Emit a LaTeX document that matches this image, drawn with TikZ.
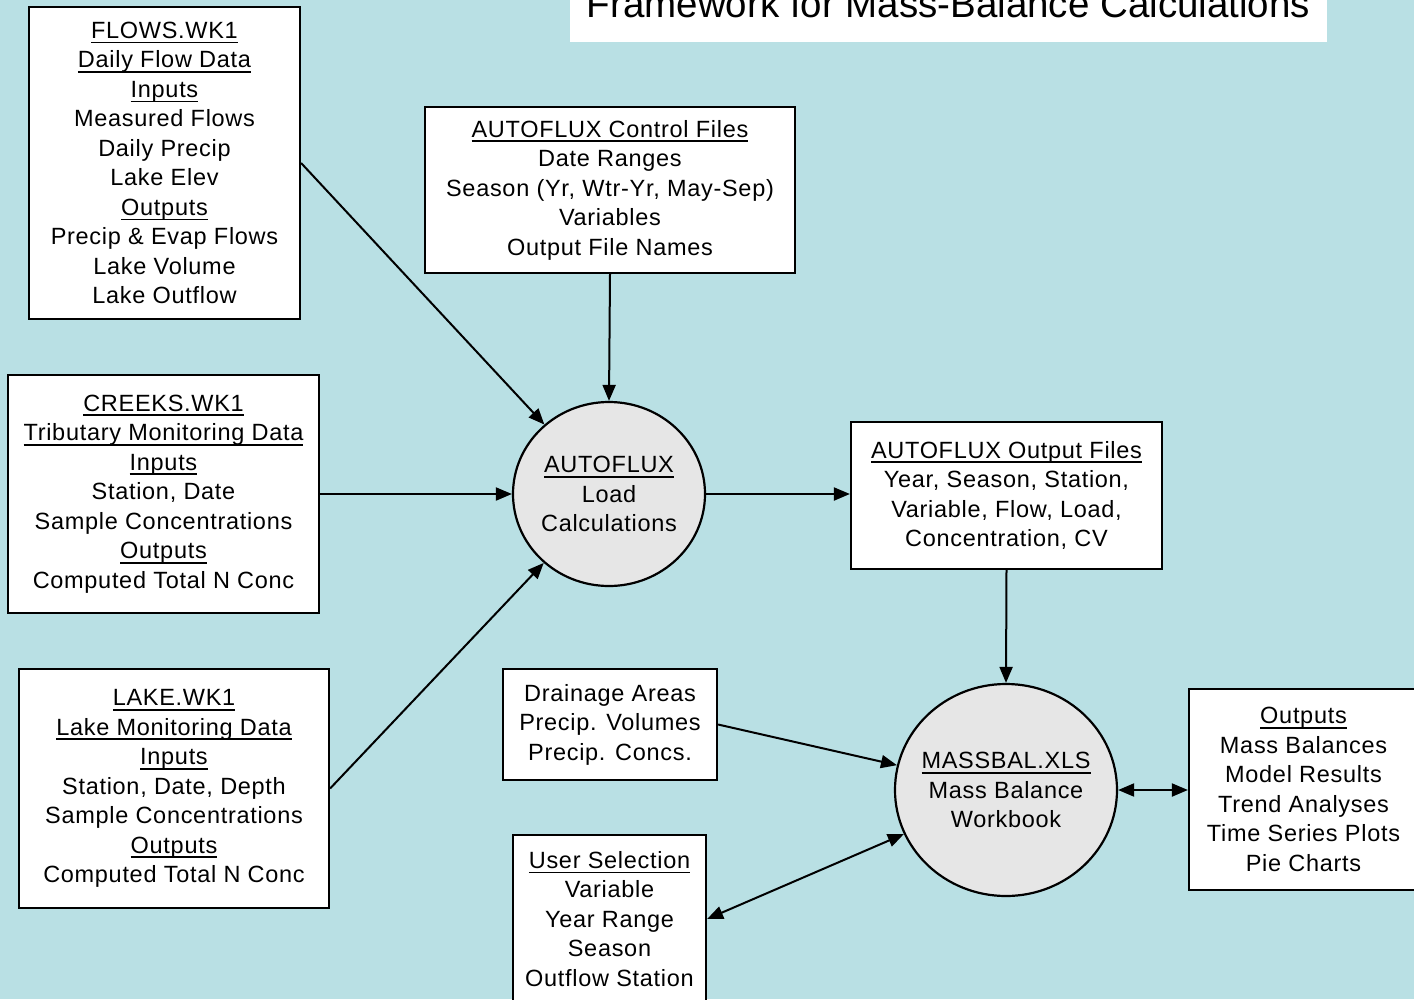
\documentclass[tikz,border=0pt]{standalone}
\usepackage{fontspec}
\setmainfont[LetterSpace=3]{Liberation Sans}
\newfontfamily\ttlfont{Liberation Sans}
\usetikzlibrary{shapes.geometric,arrows.meta}
\definecolor{bgblue}{HTML}{B9E0E4}
\definecolor{procgray}{HTML}{E6E6E6}
\newcommand{\dgfont}{\fontsize{23.5}{29.5}\selectfont}
\newcommand{\uln}[1]{\setbox0\hbox{#1}\rlap{\rule[-5pt]{\wd0}{1.8pt}}\box0}
\tikzset{
  box/.style={draw, fill=white, line width=2.2pt, align=center, inner sep=0pt, font=\dgfont},
  proc/.style={ellipse, draw, fill=procgray, line width=2.2pt, inner sep=0pt},
  ptext/.style={align=center, font=\dgfont, inner sep=0pt},
  arr/.style={line width=2pt, -{Triangle[length=16pt,width=13pt]}},
  darr/.style={line width=2pt, {Triangle[length=16pt,width=13pt]}-{Triangle[length=16pt,width=13pt]}}
}
\begin{document}
\begin{tikzpicture}[x=1pt,y=-1pt]
\useasboundingbox (0,0) rectangle (1414,999);
\fill[bgblue] (0,0) rectangle (1414,999);
% title
\node[fill=white, minimum width=757pt, minimum height=62pt, inner sep=0pt] (tbox) at (948.5,11) {};
\node[anchor=base, font=\ttlfont\fontsize{38.5}{40}\selectfont, inner sep=0pt] (title) at (948.5,17) {Framework for Mass-Balance Calculations};
% boxes
\node[box, minimum width=271pt, minimum height=312pt] (flows) at (164.5,163)
  {\uln{FLOWS.WK1}\\ \uln{Daily Flow Data}\\ \uln{Inputs}\\ Measured Flows\\ Daily Precip\\ Lake Elev\\ \uln{Outputs}\\ Precip \& Evap Flows\\ Lake Volume\\ Lake Outflow};
\node[box, minimum width=370pt, minimum height=166pt] (ctrl) at (610,190)
  {\uln{AUTOFLUX Control Files}\\ Date Ranges\\ Season (Yr, Wtr-Yr, May-Sep)\\ Variables\\ Output File Names};
\node[box, minimum width=311pt, minimum height=238pt] (creeks) at (163.5,494)
  {\uln{CREEKS.WK1}\\ \uln{Tributary Monitoring Data}\\ \uln{Inputs}\\ Station, Date\\ Sample Concentrations\\ \uln{Outputs}\\ Computed Total N Conc};
\node[box, minimum width=310pt, minimum height=239pt] (lake) at (174,788.5)
  {\uln{LAKE.WK1}\\ \uln{Lake Monitoring Data}\\ \uln{Inputs}\\ Station, Date, Depth\\ Sample Concentrations\\ \uln{Outputs}\\ Computed Total N Conc};
\node[box, minimum width=311pt, minimum height=147pt] (outf) at (1006.5,495.5)
  {\uln{AUTOFLUX Output Files}\\ Year, Season, Station,\\ Variable, Flow, Load,\\ Concentration, CV};
\node[box, minimum width=214pt, minimum height=111pt] (drain) at (610,724.5)
  {Drainage Areas\\ Precip. Volumes\\ Precip. Concs.};
\node[box, minimum width=193pt, minimum height=168pt] (usel) at (609.5,919)
  {\uln{User Selection}\\ Variable\\ Year Range\\ Season\\ Outflow Station};
\node[box, minimum width=229pt, minimum height=201pt] (outs) at (1303.5,789.5)
  {\uln{Outputs}\\ Mass Balances\\ Model Results\\ Trend Analyses\\ Time Series Plots\\ Pie Charts};
% process circles
\node[proc, minimum width=192pt, minimum height=184pt] (af) at (609,494) {};
\node[ptext] (aft) at (af.center) {\uln{AUTOFLUX}\\ Load\\ Calculations};
\node[proc, minimum width=222pt, minimum height=212pt] (mb) at (1006,790) {};
\node[ptext] (mbt) at (mb.center) {\uln{MASSBAL.XLS}\\ Mass Balance\\ Workbook};
% connectors
\draw[arr] (flows.east) -- (af);
\draw[arr] (ctrl.south) -- (af.north);
\draw[arr] (creeks.east) -- (af.west);
\draw[arr] (lake.east) -- (af);
\draw[arr] (af.east) -- (outf.west |- af.east);
\draw[arr] (outf.south) -- (mb.north);
\draw[arr] (drain.east) -- (mb);
\draw[darr] (usel.east) -- (mb);
\draw[darr] (mb.east) -- (outs.west |- mb.east);
\end{tikzpicture}
\end{document}
